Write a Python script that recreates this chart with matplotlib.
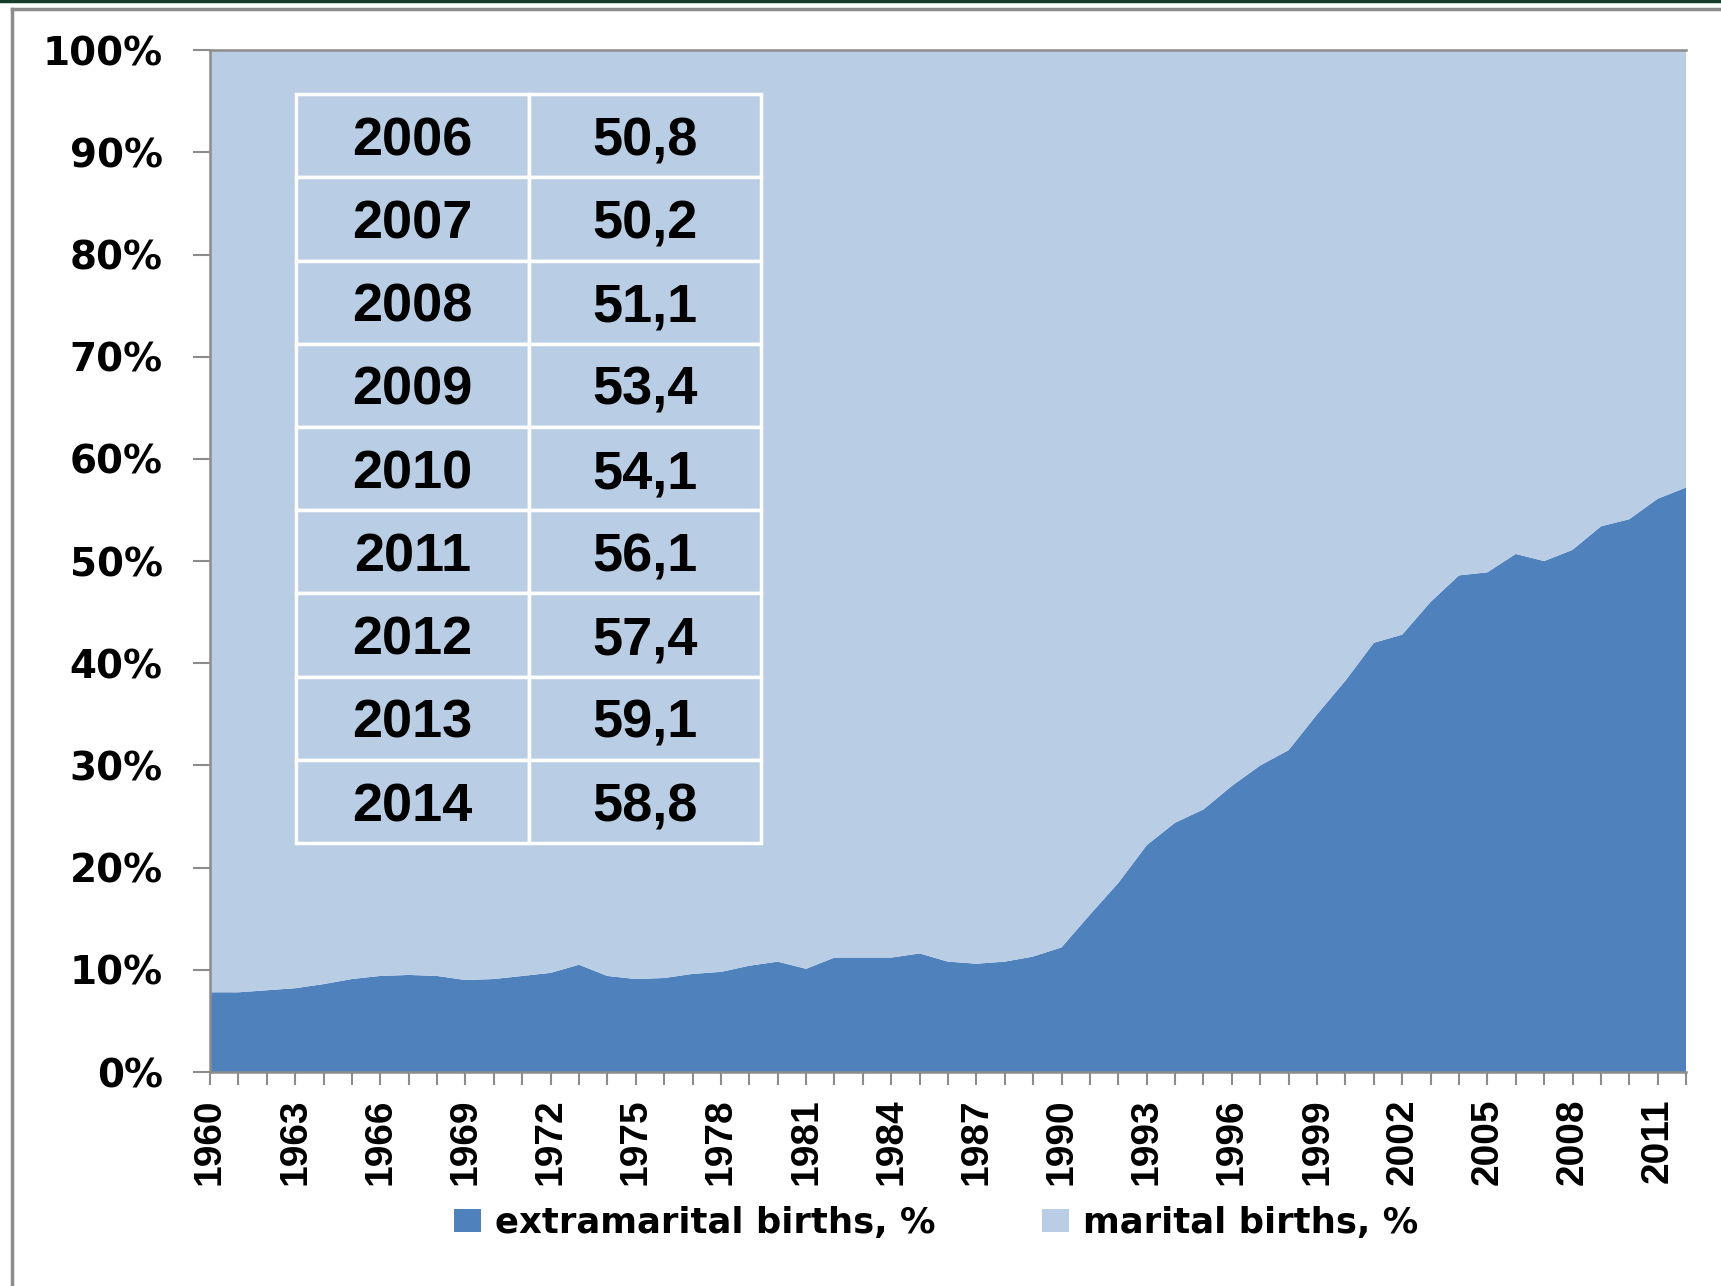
import matplotlib
matplotlib.use("Agg")
import matplotlib.pyplot as plt
from matplotlib.lines import Line2D
from matplotlib.patches import Patch
import numpy as np

# data
years = list(range(1960, 2013))
extramarital = [7.8, 7.8, 8.0, 8.2, 8.6, 9.1, 9.4, 9.5, 9.4, 9.0,
                9.1, 9.4, 9.7, 10.5, 9.4, 9.1, 9.2, 9.6, 9.8, 10.4,
                10.8, 10.1, 11.2, 11.2, 11.2, 11.6, 10.8, 10.6, 10.8, 11.3,
                12.2, 15.4, 18.5, 22.2, 24.4, 25.7, 28.0, 30.0, 31.5, 35.0,
                38.3, 42.0, 42.8, 46.0, 48.6, 48.9, 50.7, 50.0, 51.1, 53.4,
                54.1, 56.1, 57.2]
marital = [100 - v for v in extramarital]

tab_years = ["2006", "2007", "2008", "2009", "2010", "2011", "2012", "2013", "2014"]
tab_values = ["50,8", "50,2", "51,1", "53,4", "54,1", "56,1", "57,4", "59,1", "58,8"]

dark = "#4f81bd"
light = "#b9cde5"
grey = "#8c8c8c"

fig = plt.figure(figsize=(17.21, 12.86), dpi=100)
ax = fig.add_axes([0.122, 0.1664, 0.8577, 0.7946])

x = np.arange(len(years))
ax.stackplot(x, extramarital, marital, colors=[dark, light], linewidth=0)
ax.set_xlim(0, len(years) - 1)
ax.set_ylim(0, 100)

ax.set_yticks(range(0, 101, 10))
ax.set_yticklabels([f"{v}%" for v in range(0, 101, 10)],
                   fontfamily="DejaVu Sans", fontweight="bold", fontsize=28)
ax.set_xticks(x)
ax.set_xticklabels([str(y) if (y - 1960) % 3 == 0 else "" for y in years],
                   rotation=90, fontfamily="Liberation Sans", fontweight="bold", fontsize=28)
ax.tick_params(axis="y", length=12, width=1.5, color=grey, pad=22)
ax.tick_params(axis="x", length=9, width=1.5, color=grey, pad=10)

for s in ["left", "bottom", "top"]:
    ax.spines[s].set_color(grey)
    ax.spines[s].set_linewidth(1.8)
ax.spines["right"].set_visible(False)

# inset table
cells = [[y, v] for y, v in zip(tab_years, tab_values)]
tb = ax.table(cellText=cells, cellLoc="center",
              bbox=[0.0583, 0.224, 0.315, 0.733])
tb.set_zorder(5)
tb.auto_set_font_size(False)
for (r, c), cell in tb.get_celld().items():
    cell.set_facecolor(light)
    cell.set_edgecolor("white")
    cell.set_linewidth(2.5)
    cell.get_text().set_fontsize(39)
    cell.get_text().set_fontweight("bold")
    cell.get_text().set_fontfamily("Liberation Sans")
    cell.get_text().set_verticalalignment("center_baseline")

# legend
handles = [Patch(facecolor=dark, label="extramarital births, %"),
           Patch(facecolor=light, label="marital births, %")]
fig.legend(handles=handles, loc="center", bbox_to_anchor=(0.544, 0.049), ncol=2,
           frameon=False, prop={"family": "DejaVu Sans", "weight": "bold", "size": 25.5},
           handlelength=0.75, handleheight=0.6, handletextpad=0.4, columnspacing=3.0)

# outer frame
fig.add_artist(Line2D([0, 1], [0.9995, 0.9995], color="#163d2a", linewidth=2.5))
fig.add_artist(Line2D([0.007, 1], [0.993, 0.993], color=grey, linewidth=2.5))
fig.add_artist(Line2D([0.007, 0.007], [0, 0.993], color=grey, linewidth=2.5))

fig.savefig("out.png", dpi=100)
